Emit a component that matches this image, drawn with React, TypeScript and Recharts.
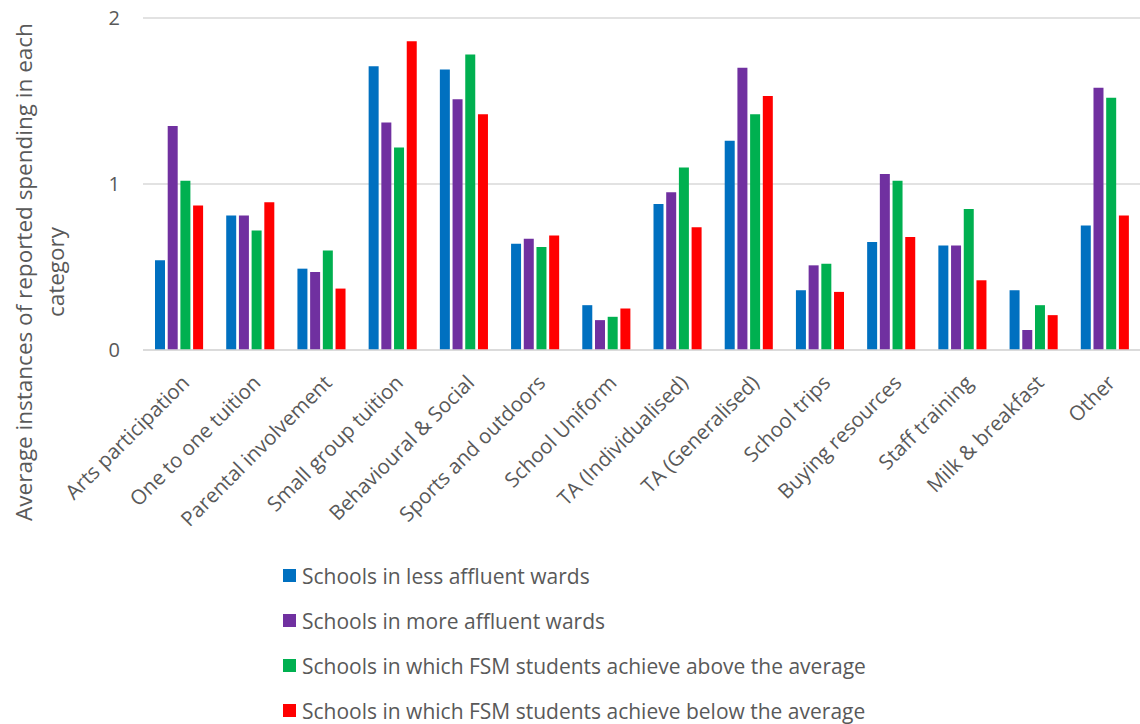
import { Bar, BarChart, CartesianGrid, Legend, XAxis, YAxis } from "recharts";

const categories = [
  "Arts participation",
  "One to one tuition",
  "Parental involvement",
  "Small group tuition",
  "Behavioural & Social",
  "Sports and outdoors",
  "School Uniform",
  "TA (Individualised)",
  "TA (Generalised)",
  "School trips",
  "Buying resources",
  "Staff training",
  "Milk & breakfast",
  "Other",
];

const lessAffluent = [0.54, 0.81, 0.49, 1.71, 1.69, 0.64, 0.27, 0.88, 1.26, 0.36, 0.65, 0.63, 0.36, 0.75];
const moreAffluent = [1.35, 0.81, 0.47, 1.37, 1.51, 0.67, 0.18, 0.95, 1.7, 0.51, 1.06, 0.63, 0.12, 1.58];
const fsmAbove = [1.02, 0.72, 0.6, 1.22, 1.78, 0.62, 0.2, 1.1, 1.42, 0.52, 1.02, 0.85, 0.27, 1.52];
const fsmBelow = [0.87, 0.89, 0.37, 1.86, 1.42, 0.69, 0.25, 0.74, 1.53, 0.35, 0.68, 0.42, 0.21, 0.81];

const yTicks = [0, 1, 2];

const series = [
  { key: "less", name: "Schools in less affluent wards", color: "#0070c0" },
  { key: "more", name: "Schools in more affluent wards", color: "#7030a0" },
  { key: "above", name: "Schools in which FSM students achieve above the average", color: "#00b050" },
  { key: "below", name: "Schools in which FSM students achieve below the average", color: "#ff0000" },
];

const data = categories.map((name, i) => ({
  name,
  less: lessAffluent[i],
  more: moreAffluent[i],
  above: fsmAbove[i],
  below: fsmBelow[i],
}));

const FONT = "'Open Sans', sans-serif";
const TEXT = "#595959";

const CategoryTick = ({ x, y, payload }: any) => (
  <g transform={`translate(${x + 7},${y + 29})`}>
    <text
      transform="rotate(-45)"
      textAnchor="end"
      dy="0.35em"
      fill={TEXT}
      fontSize={20.5}
      fontFamily={FONT}
    >
      {payload.value}
    </text>
  </g>
);

const YTitle = () => (
  <text
    transform="translate(24,272) rotate(-90)"
    textAnchor="middle"
    fill={TEXT}
    fontSize={22.5}
    fontFamily={FONT}
  >
    <tspan x={0} dy="0.35em">Average instances of reported spending in each</tspan>
    <tspan x={0} dy={32}>category</tspan>
  </text>
);

const LegendList = () => (
  <div style={{ fontFamily: FONT, fontSize: 21, color: TEXT }}>
    {series.map((s) => (
      <div key={s.key} style={{ height: 45, display: "flex", alignItems: "center" }}>
        <span
          style={{ width: 13, height: 13, background: s.color, marginRight: 6, display: "inline-block" }}
        />
        <span>{s.name}</span>
      </div>
    ))}
  </div>
);

export default function App() {
  return (
    <div style={{ position: "absolute", left: 0, top: 0, background: "#fff" }}>
      <BarChart
        width={1140}
        height={724}
        data={data}
        margin={{ top: 18, right: 0, bottom: 0, left: 0 }}
        barSize={10}
        barGap={2.7}
      >
        <CartesianGrid vertical={false} stroke="#d9d9d9" strokeWidth={1.5} />
        <XAxis
          dataKey="name"
          interval={0}
          height={194}
          tickLine={false}
          tickSize={0}
          tickMargin={0}
          axisLine={{ stroke: "#d9d9d9", strokeWidth: 1.5 }}
          tick={<CategoryTick />}
        />
        <YAxis
          domain={[0, 2]}
          ticks={yTicks}
          width={143}
          tickLine={false}
          axisLine={false}
          tickSize={0}
          tickMargin={23}
          tick={{ fill: TEXT, fontSize: 20, fontFamily: FONT }}
          label={{ content: () => <YTitle /> }}
        />
        <Legend
          layout="vertical"
          align="center"
          verticalAlign="bottom"
          content={() => <LegendList />}
          wrapperStyle={{ left: 283, top: 553, width: "auto", height: 180 }}
        />
        {series.map((s) => (
          <Bar
            key={s.key}
            dataKey={s.key}
            name={s.name}
            fill={s.color}
            isAnimationActive={false}
          />
        ))}
      </BarChart>
    </div>
  );
}
